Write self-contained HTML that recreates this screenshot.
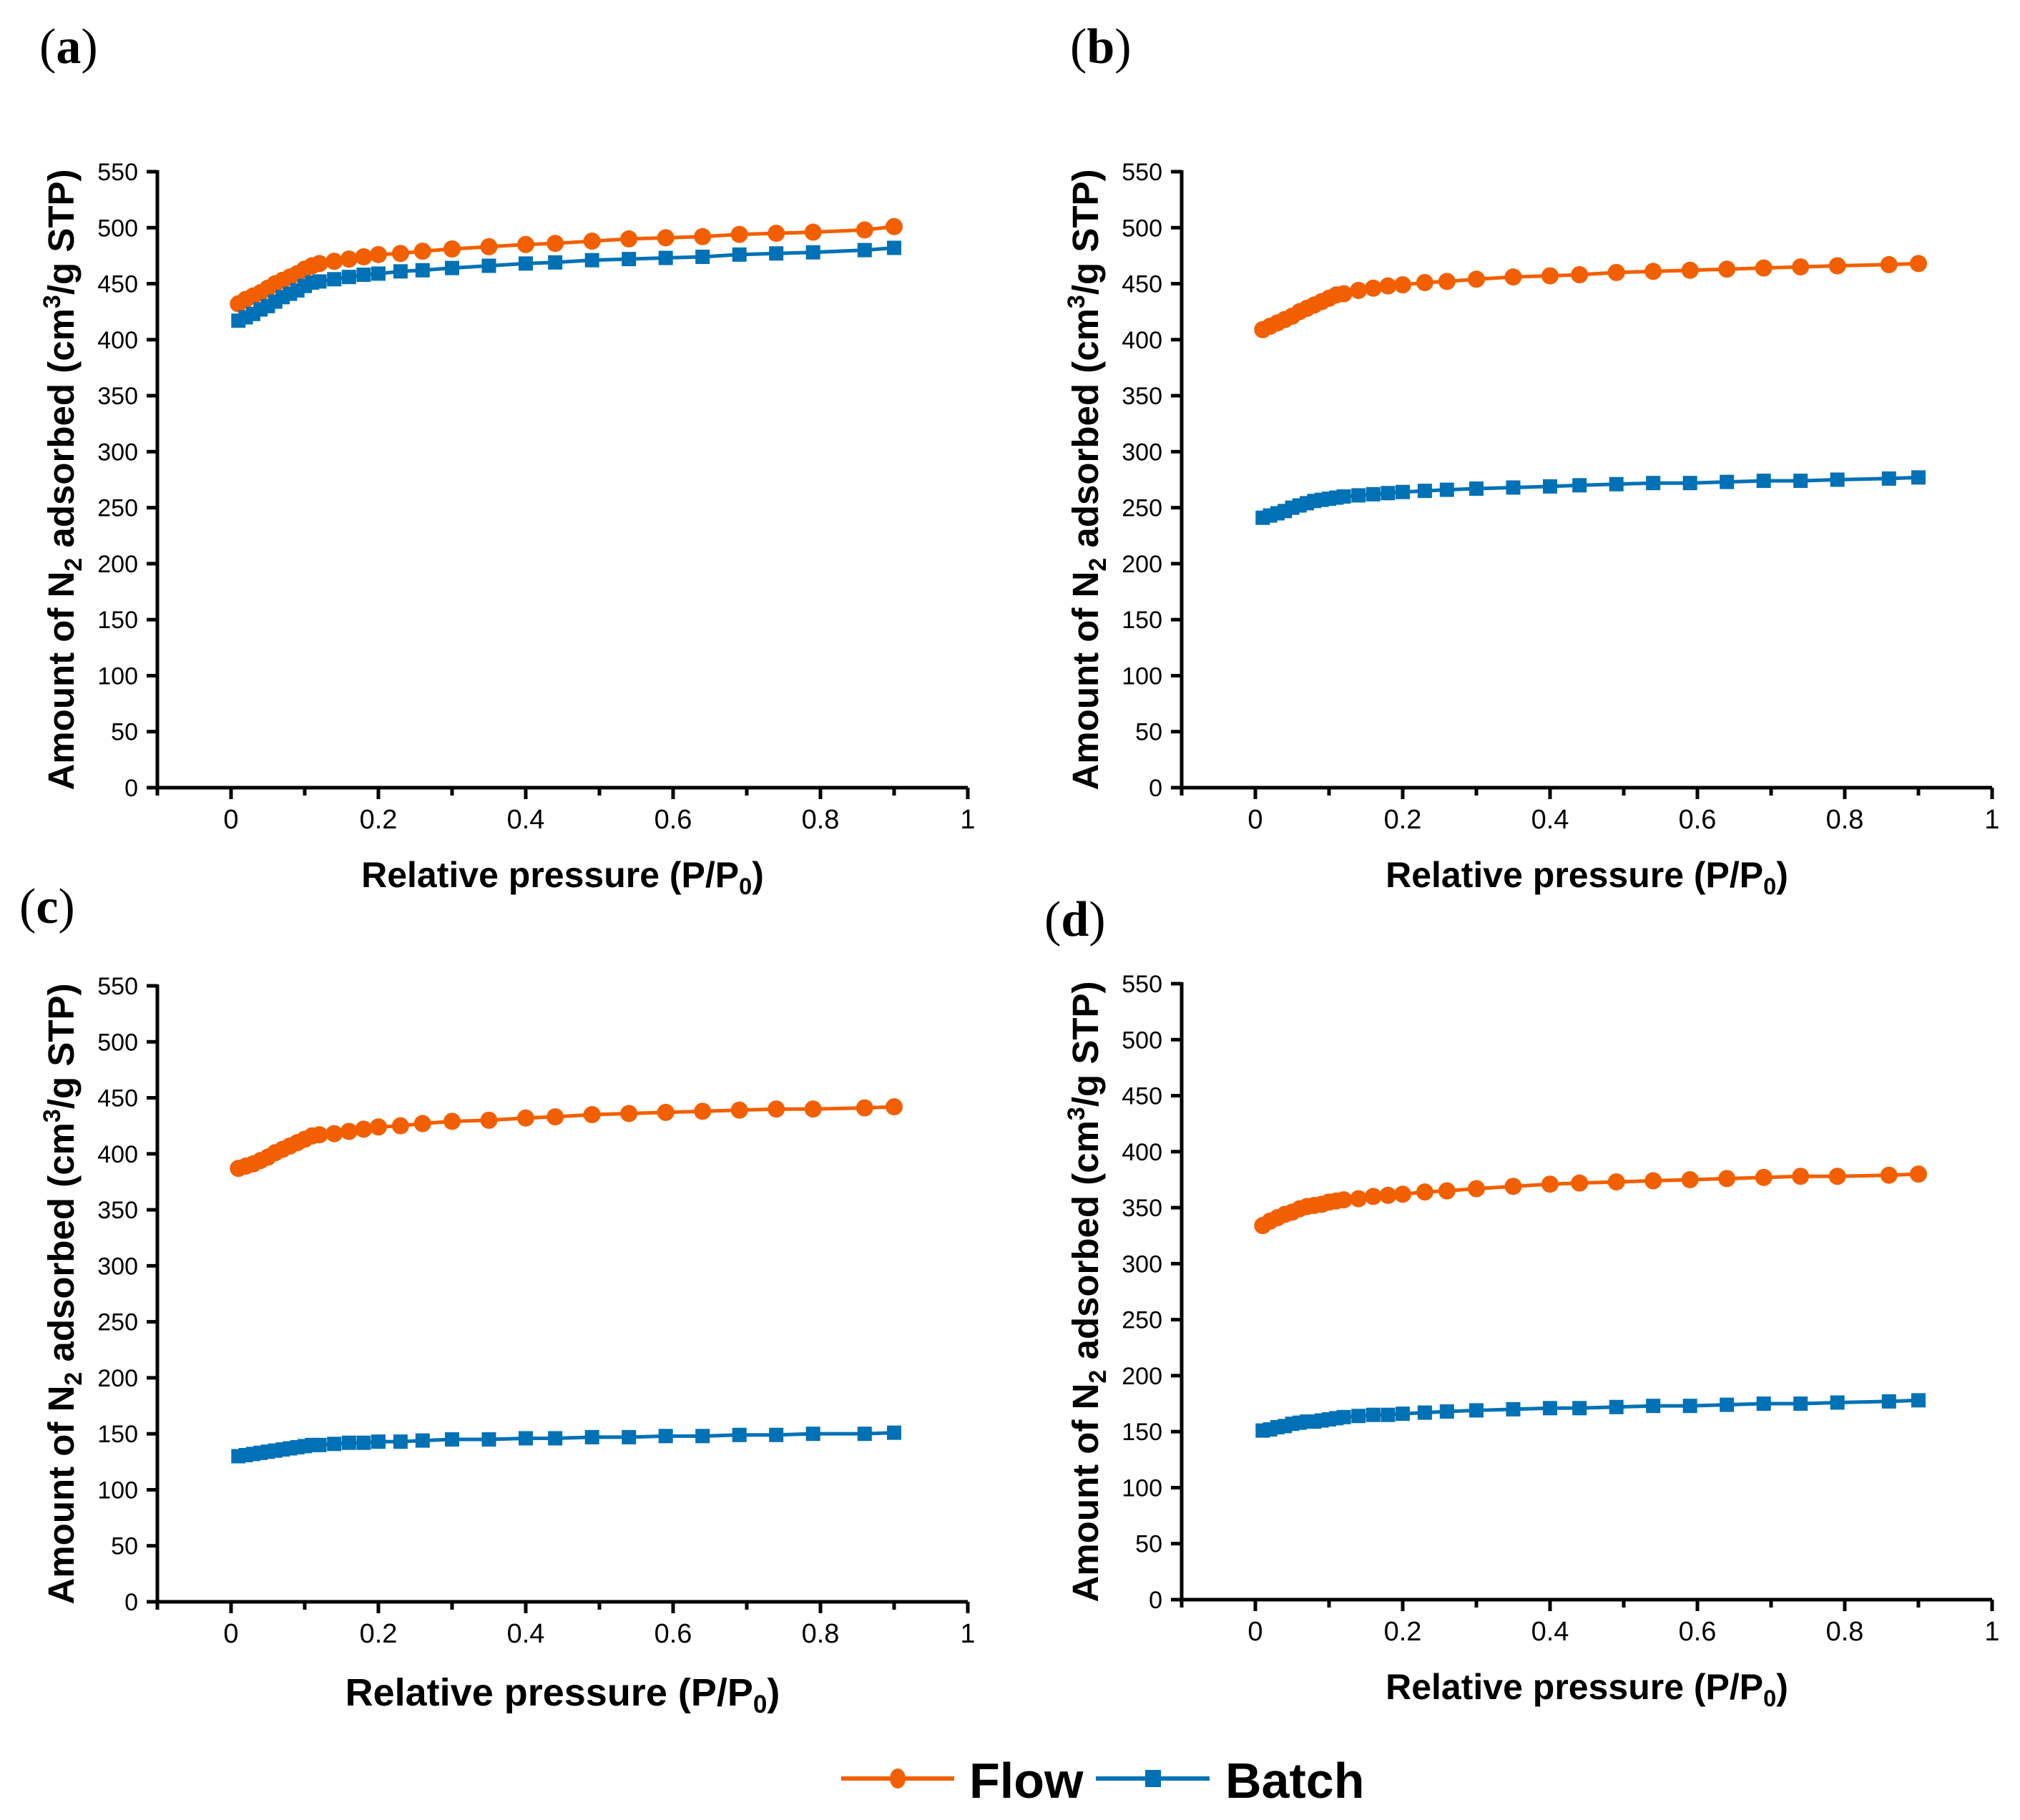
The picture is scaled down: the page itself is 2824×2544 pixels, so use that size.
<!DOCTYPE html>
<html><head><meta charset="utf-8"><style>
html,body{margin:0;padding:0;background:#fff;}
svg{display:block;}
text{font-family:"Liberation Sans",Arial,sans-serif;}
</style></head><body>
<svg id="fig" width="2824" height="2544" viewBox="0 0 2824 2544" xmlns="http://www.w3.org/2000/svg"></svg>
<script>
const xVals=[0.01,0.02,0.03,0.04,0.05,0.06,0.07,0.08,0.09,0.1,0.11,0.12,0.14,0.16,0.18,0.2,0.23,0.26,0.3,0.35,0.4,0.44,0.49,0.54,0.59,0.64,0.69,0.74,0.79,0.86,0.9];
const aFlow=[432,436,439,442,446,450,453,456,459,463,466,468,470,472,474,476,477,479,481,483,485,486,488,490,491,492,494,495,496,498,501];
const aBatch=[417,420,423,427,430,434,438,441,444,448,451,452,454,456,458,459,461,462,464,466,468,469,471,472,473,474,476,477,478,480,482];
const bFlow=[409,412,415,418,421,425,428,431,434,437,440,441,444,446,448,449,451,452,454,456,457,458,460,461,462,463,464,465,466,467,468];
const bBatch=[241,243,245,247,250,252,254,256,257,258,259,260,261,262,263,264,265,266,267,268,269,270,271,272,272,273,274,274,275,276,277];
const cFlow=[387,389,391,394,397,401,404,407,410,413,416,417,418,420,422,424,425,427,429,430,432,433,435,436,437,438,439,440,440,441,442];
const cBatch=[130,131,132,133,134,135,136,137,138,139,140,140,141,142,142,143,143,144,145,145,146,146,147,147,148,148,149,149,150,150,151];
const dFlow=[334,338,341,344,346,349,351,352,353,355,356,357,358,360,361,362,364,365,367,369,371,372,373,374,375,376,377,378,378,379,380];
const dBatch=[151,152,154,155,157,158,159,159,160,161,162,163,164,165,165,166,167,168,169,170,171,171,172,173,173,174,175,175,176,177,178];
const yTicks=[0,50,100,150,200,250,300,350,400,450,500,550];
const xTicks=[0,0.2,0.4,0.6,0.8,1];
const xTickLabels=["0","0.2","0.4","0.6","0.8","1"];
const xMinor=[-0.1,0.1,0.3,0.5,0.7,0.9];

const NS="http://www.w3.org/2000/svg";
const svg=document.getElementById('fig');
function mk(tag,attrs,parent){const e=document.createElementNS(NS,tag);for(const k in attrs)e.setAttribute(k,attrs[k]);(parent||svg).appendChild(e);return e;}
const ORANGE="#f25f00",BLUE="#0071b5";

const panels=[
 {id:'a',dx:0,dy:0,flow:aFlow,batch:aBatch,lab:[55,88],xtSize:50},
 {id:'b',dx:1432,dy:0,flow:bFlow,batch:bBatch,lab:[1496,88],xtSize:50},
 {id:'c',dx:0,dy:1138,flow:cFlow,batch:cBatch,lab:[27,1290],xtSize:54},
 {id:'d',dx:1432,dy:1135,flow:dFlow,batch:dBatch,lab:[1460,1308],xtSize:50}
];

panels.forEach(p=>{
 const g=mk('g',{transform:`translate(${p.dx},${p.dy})`});
 
 
 const X0=220,X1=1353,Y0=1101,Y1=240;
 const sx=v=>X0+(v+0.1)/1.1*(X1-X0);
 const sy=v=>Y0-v/550*(Y0-Y1);
 const ax=mk('path',{d:`M${X0} ${Y1-2}V${Y0}H${X1}`,fill:'none',stroke:'#000','stroke-width':5},g);
 
 
 yTicks.forEach(t=>{
  mk('line',{x1:X0-15,x2:X0,y1:sy(t),y2:sy(t),stroke:'#000','stroke-width':5},g);
  const tx=mk('text',{x:193,y:sy(t)+12,'text-anchor':'end','font-size':34},g);
  tx.textContent=t;
  
  
 });
 mk('line',{x1:X0,x2:X0,y1:Y0,y2:Y0+11,stroke:'#000','stroke-width':5},g);
 xMinor.forEach(t=>{mk('line',{x1:sx(t),x2:sx(t),y1:Y0,y2:Y0+11,stroke:'#000','stroke-width':5},g);});
 xTicks.forEach((t,i)=>{
  mk('line',{x1:sx(t),x2:sx(t),y1:Y0,y2:Y0+16,stroke:'#000','stroke-width':5},g);
  const tx=mk('text',{x:sx(t),y:1158,'text-anchor':'middle','font-size':38},g);
  tx.textContent=xTickLabels[i];
  
  
 });
 const xt=mk('text',{x:(X0+X1)/2,y:p.id==='c'?1246:1240,'text-anchor':'middle','font-size':p.xtSize,'font-weight':'bold'},g);
 xt.innerHTML='Relative pressure (P/P<tspan font-size="'+(p.xtSize*0.65)+'" dy="10">0</tspan><tspan dy="-10">)</tspan>';
 
 
 const yt=mk('text',{x:0,y:0,'text-anchor':'middle','font-size':51,'font-weight':'bold',transform:`translate(103,${(Y0+Y1)/2}) rotate(-90)`},g);
 yt.innerHTML='Amount of N<tspan font-size="34" dy="11">2</tspan><tspan dy="-11"> adsorbed (cm</tspan><tspan font-size="34" dy="-19">3</tspan><tspan dy="19">/g STP)</tspan>';
 
 
 const fl=mk('polyline',{points:xVals.map((x,i)=>sx(x)+','+sy(p.flow[i])).join(' '),fill:'none',stroke:ORANGE,'stroke-width':5},g);
 
 
 const bl=mk('polyline',{points:xVals.map((x,i)=>sx(x)+','+sy(p.batch[i])).join(' '),fill:'none',stroke:BLUE,'stroke-width':5},g);
 
 
 xVals.forEach((x,i)=>{
  const c=mk('circle',{cx:sx(x),cy:sy(p.flow[i]),r:12,fill:ORANGE},g);
  
  
  const s=mk('rect',{x:sx(x)-10,y:sy(p.batch[i])-10,width:20,height:20,fill:BLUE},g);
  
  
 });
 const pl=mk('text',{x:p.lab[0]-p.dx,y:p.lab[1]-p.dy,'font-size':70},g);
 pl.style.fontFamily='"Liberation Serif",serif';
 pl.innerHTML='(<tspan font-weight="bold">'+p.id+'</tspan>)';
 
 
});
const lg=mk('g',{});


mk('line',{x1:1176,x2:1334,y1:2486,y2:2486,stroke:ORANGE,'stroke-width':6},lg);
mk('ellipse',{cx:1255,cy:2486,rx:11,ry:14,fill:ORANGE},lg);
const lf=mk('text',{x:1355,y:2513,'font-size':70,'font-weight':'bold'},lg);
lf.textContent='Flow';


mk('line',{x1:1532,x2:1691,y1:2486,y2:2486,stroke:BLUE,'stroke-width':6},lg);
mk('rect',{x:1601,y:2474,width:22,height:24,fill:BLUE},lg);
const lb=mk('text',{x:1713,y:2513,'font-size':70,'font-weight':'bold'},lg);
lb.textContent='Batch';


</script>
</body></html>
